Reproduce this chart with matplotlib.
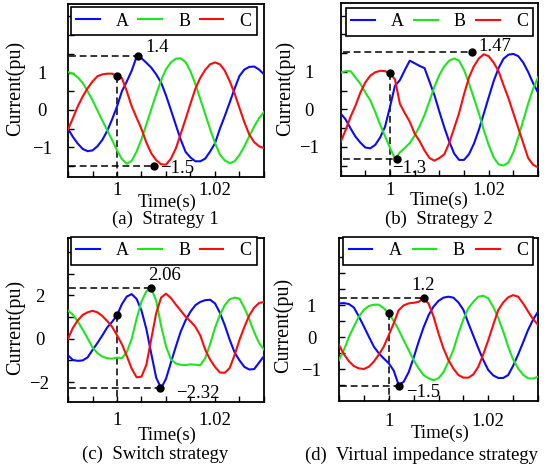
import matplotlib
matplotlib.use('Agg')
import matplotlib.pyplot as plt

plt.rcParams['font.family'] = ['Liberation Serif', 'DejaVu Serif']
plt.rcParams['axes.unicode_minus'] = True

W, H = 550, 473

# time axis (s), same for every panel
time_s = [0.990, 0.991, 0.992, 0.993, 0.994, 0.995, 0.996, 0.997, 0.998, 0.999,
          1.000, 1.001, 1.002, 1.003, 1.004, 1.005, 1.006, 1.007, 1.008, 1.009,
          1.010, 1.011, 1.012, 1.013, 1.014, 1.015, 1.016, 1.017, 1.018, 1.019,
          1.020, 1.021, 1.022, 1.023, 1.024, 1.025, 1.026, 1.027, 1.028, 1.029,
          1.030]

phase_names = ['A', 'B', 'C']
phase_colors = ['#0a0aff', '#1ee61e', '#ff0a0a']

# (a) Strategy 1, phase currents in pu
a_ia = [-0.50, -0.72, -0.90, -1.04, -1.10, -1.08, -0.97, -0.80, -0.56, -0.25,
        0.09, 0.50, 0.76, 1.05, 1.42, 1.38, 1.26, 1.13, 0.95, 0.73,
        0.39, 0.00, -0.40, -0.79, -1.12, -1.27, -1.37, -1.37, -1.30, -1.11,
        -0.89, -0.50, -0.16, 0.20, 0.57, 0.91, 1.08, 1.15, 1.16, 1.08,
        0.95]
a_ib = [1.01, 0.97, 0.87, 0.72, 0.50, 0.26, -0.01, -0.28, -0.54, -0.80,
        -1.08, -1.31, -1.44, -1.36, -1.11, -0.78, -0.38, 0.02, 0.42, 0.79,
        1.09, 1.27, 1.37, 1.38, 1.28, 1.03, 0.69, 0.29, -0.11, -0.51,
        -0.88, -1.19, -1.35, -1.42, -1.37, -1.20, -0.97, -0.70, -0.44, -0.22,
        -0.05]
a_ic = [-0.52, -0.22, 0.10, 0.36, 0.58, 0.76, 0.90, 0.95, 0.97, 0.97,
        0.91, 0.85, 0.50, 0.10, -0.21, -0.51, -0.87, -1.16, -1.34, -1.45,
        -1.46, -1.30, -1.03, -0.64, -0.24, 0.17, 0.57, 0.86, 1.07, 1.22,
        1.27, 1.22, 1.05, 0.77, 0.44, 0.05, -0.33, -0.66, -0.86, -0.97,
        -1.02]
a_dots = [(1.0, 0.90), (1.0043, 1.44), (1.0075, -1.50)]
a_texts = ['1.4', '\u22121.5']
a_text_pos = [(1.0057, 1.67), (1.0088, -1.56)]

# (b) Strategy 2
b_ia = [-0.11, -0.27, -0.51, -0.73, -0.89, -1.02, -1.04, -0.95, -0.75, -0.46,
        0.07, 0.63, 0.78, 1.05, 1.30, 1.23, 1.16, 1.10, 0.74, 0.38,
        -0.06, -0.48, -0.86, -1.18, -1.35, -1.35, -1.20, -0.92, -0.55, -0.12,
        0.32, 0.75, 1.10, 1.35, 1.46, 1.48, 1.42, 1.25, 1.00, 0.70,
        0.45]
b_ib = [0.98, 1.02, 1.02, 0.85, 0.68, 0.45, 0.24, -0.07, -0.41, -0.72,
        -1.03, -1.32, -1.15, -1.03, -0.90, -0.70, -0.45, -0.15, 0.22, 0.60,
        0.92, 1.15, 1.30, 1.36, 1.30, 1.05, 0.70, 0.30, -0.10, -0.55,
        -0.95, -1.28, -1.47, -1.50, -1.42, -1.15, -0.75, -0.30, 0.15, 0.55,
        0.85]
b_ic = [-0.87, -0.55, -0.20, 0.10, 0.45, 0.72, 0.90, 0.99, 1.03, 1.02,
        0.96, 0.80, 0.15, -0.10, -0.33, -0.65, -0.85, -1.10, -1.30, -1.37,
        -1.30, -1.20, -0.90, -0.50, -0.10, 0.40, 0.85, 1.15, 1.36, 1.47,
        1.42, 1.25, 1.02, 0.65, 0.30, -0.10, -0.50, -0.90, -1.30, -1.48,
        -1.55]
b_dots = [(1.0, 0.96), (1.0166, 1.52), (1.0015, -1.33)]
b_texts = ['1.47', '\u22121.3']
b_text_pos = [(1.018, 1.67), (1.0005, -1.57)]

# (c) Switch strategy
c_ia = [-0.77, -0.98, -1.02, -1.00, -0.86, -0.52, -0.20, 0.15, 0.52, 0.78,
        1.08, 1.60, 1.95, 2.06, 1.84, 1.30, 0.44, -0.70, -1.80, -2.28,
        -1.85, -1.10, -0.37, 0.33, 0.85, 1.25, 1.55, 1.70, 1.78, 1.80,
        1.63, 1.20, 0.62, -0.05, -0.63, -1.00, -1.30, -1.42, -1.40, -1.10,
        -0.80]
c_ib = [1.30, 1.11, 0.80, 0.42, 0.02, -0.40, -0.66, -0.82, -0.90, -0.92,
        -0.87, -0.90, -0.62, 0.00, 0.92, 1.72, 2.20, 2.32, 1.75, 0.60,
        -0.35, -0.95, -1.14, -1.20, -1.22, -1.18, -1.20, -1.22, -0.90, -0.25,
        0.50, 1.10, 1.55, 1.82, 1.90, 1.85, 1.42, 0.90, 0.30, -0.20,
        -0.50]
c_ic = [0.00, 0.50, 0.85, 1.10, 1.22, 1.29, 1.22, 1.05, 0.82, 0.55,
        0.16, -0.25, -0.80, -1.38, -1.78, -1.75, -1.20, 0.00, 1.18, 1.90,
        2.08, 1.88, 1.58, 1.30, 1.02, 0.80, 0.55, 0.15, -0.50, -0.96,
        -1.30, -1.56, -1.57, -1.35, -0.75, -0.05, 0.55, 1.08, 1.44, 1.65,
        1.70]
c_dots = [(1.0, 1.09), (1.0069, 2.32), (1.0088, -2.29)]
c_texts = ['2.06', '\u22122.32']
c_text_pos = [(1.0063, 2.94), (1.012, -2.55)]

# (d) Virtual impedance strategy
d_ia = [1.05, 1.06, 1.03, 0.92, 0.64, 0.33, 0.01, -0.30, -0.51, -0.67,
        -0.82, -1.05, -1.50, -1.40, -1.10, -0.65, -0.15, 0.30, 0.68, 0.95,
        1.13, 1.23, 1.26, 1.23, 1.08, 0.85, 0.43, 0.04, -0.35, -0.72,
        -1.03, -1.20, -1.28, -1.28, -1.19, -0.90, -0.55, -0.17, 0.22, 0.54,
        0.79]
d_ib = [-0.72, -0.40, 0.00, 0.33, 0.64, 0.85, 0.97, 1.01, 1.01, 0.90,
        0.74, 0.50, 0.22, -0.10, -0.41, -0.72, -0.98, -1.19, -1.29, -1.35,
        -1.29, -1.10, -0.77, -0.40, 0.11, 0.55, 0.90, 1.10, 1.26, 1.29,
        1.21, 0.94, 0.60, 0.18, -0.30, -0.70, -0.98, -1.18, -1.29, -1.30,
        -1.24]
d_ic = [-0.25, -0.54, -0.76, -0.91, -0.98, -1.00, -0.93, -0.77, -0.55, -0.30,
        0.06, 0.43, 0.84, 0.99, 1.05, 1.07, 1.10, 1.21, 1.05, 0.64,
        0.11, -0.36, -0.72, -0.99, -1.19, -1.27, -1.27, -1.17, -0.93, -0.54,
        -0.10, 0.38, 0.84, 1.08, 1.24, 1.31, 1.26, 1.05, 0.80, 0.56,
        0.38]
d_dots = [(1.0, 0.74), (1.007, 1.21), (1.0021, -1.52)]
d_texts = ['1.2', '\u22121.5']
d_text_pos = [(1.0046, 1.62), (1.0034, -1.72)]

captions = ['(a)  Strategy 1', '(b)  Strategy 2',
            '(c)  Switch strategy', '(d)  Virtual impedance strategy']

DASH = (0, (4.5, 2.5))
FS = 13.5


def px_box(l, t, r, b):
    return [l / W, 1 - b / H, (r - l) / W, (b - t) / H]


def fig_text(fig, x, y, s, size=FS, **kw):
    fig.text(x / W, 1 - y / H, s, fontsize=size, ha='center', va='center', **kw)


def draw_panel(ax, curves, dots, texts, text_pos, xlim, ylim, yticks, ylab,
               ypad, xpad, leg_box):
    lines = []
    for vals, color, name in zip(curves, phase_colors, phase_names):
        ln, = ax.plot(time_s, vals, color=color, lw=1.5, label=name, zorder=3)
        lines.append(ln)
    ax.set_xlim(xlim)
    ax.set_ylim(ylim)

    # guide lines: dot at the fault instant drops to the time axis,
    # the two extreme dots run back to the current axis
    t0, v0 = dots[0]
    ax.plot([t0, t0], [v0, ylim[0]], color='k', ls=DASH, lw=1.1, zorder=2)
    for tx, vy in dots[1:]:
        ax.plot([xlim[0], tx], [vy, vy], color='k', ls=DASH, lw=1.1, zorder=2)
    ax.plot([d[0] for d in dots], [d[1] for d in dots], 'o', color='k',
            ms=5, ls='none', zorder=5)
    for s, (tx, vy) in zip(texts, text_pos):
        ax.text(tx, vy, s, fontsize=FS, ha='left', va='center', zorder=6)

    xt = [0.990 + 0.005 * i for i in range(9)]
    ax.set_xticks(xt)
    ax.set_xticklabels(['1' if abs(x - 1.0) < 1e-9 else
                        ('1.02' if abs(x - 1.02) < 1e-9 else '') for x in xt])
    ax.set_yticks(yticks)
    ax.set_yticklabels([ylab.get(round(y, 2), '') for y in yticks])
    ax.tick_params(direction='in', length=4, width=1, labelsize=FS)
    ax.tick_params(axis='y', pad=ypad)
    ax.tick_params(axis='x', pad=xpad)
    for lab in ax.get_yticklabels():
        lab.set_horizontalalignment('center')
    for sp in ax.spines.values():
        sp.set_linewidth(1.3)

    leg = ax.legend(handles=lines, ncol=3, loc='center', mode='expand',
                    bbox_to_anchor=leg_box, fontsize=13, frameon=True,
                    fancybox=False, framealpha=1, edgecolor='k',
                    borderpad=0.3, handlelength=1.3, handletextpad=0.9,
                    columnspacing=1.0, borderaxespad=0)
    leg.get_frame().set_linewidth(1.2)
    leg.set_zorder(10)


fig = plt.figure(figsize=(W / 100, H / 100), dpi=100)

yt_half = [-1.5, -1.0, -0.5, 0.0, 0.5, 1.0, 1.5, 2.0, 2.5]
yl_half = {-1.0: '\u22121', 0.0: '0', 1.0: '1'}
yt_one = [-2.0, -1.0, 0.0, 1.0, 2.0, 3.0, 4.0]
yl_one = {-2.0: '\u22122', 0.0: '0', 2.0: '2'}

ax_a = fig.add_axes(px_box(68, 4, 264, 177))
draw_panel(ax_a, [a_ia, a_ib, a_ic], a_dots, a_texts, a_text_pos,
           (0.99016, 1.02976), (-1.79, 2.83), yt_half, yl_half,
           18.7, 3.5, (0.014, 0.831, 0.949, 0.138))

ax_b = fig.add_axes(px_box(340.7, 3, 538, 176))
draw_panel(ax_b, [b_ia, b_ib, b_ic], b_dots, b_texts, b_text_pos,
           (0.99038, 1.02945), (-1.78, 2.84), yt_half, yl_half,
           22.8, 4.0, (0.025, 0.825, 0.951, 0.135))

ax_c = fig.add_axes(px_box(68, 238, 264, 402))
draw_panel(ax_c, [c_ia, c_ib, c_ic], c_dots, c_texts, c_text_pos,
           (0.99016, 1.02976), (-2.92, 4.65), yt_one, yl_one,
           20.5, 7.0, (0.014, 0.849, 0.949, 0.147))

ax_d = fig.add_axes(px_box(339, 237.5, 538.3, 401))
draw_panel(ax_d, [d_ia, d_ib, d_ic], d_dots, d_texts, d_text_pos,
           (0.9902, 1.03006), (-2.0, 3.11), yt_half, yl_half,
           19.8, 8.5, (0.022, 0.846, 0.953, 0.147))

# axis titles and captions
for x, y in [(167, 202), (439, 200), (167, 435), (440, 433)]:
    fig_text(fig, x, y, 'Time(s)')
for x, y in [(15.5, 88), (285, 88), (15, 327), (283.5, 325)]:
    fig_text(fig, x, y, 'Current(pu)', size=14.5, rotation=90)
for (x, y), cap in zip([(165.5, 219), (439, 219), (155, 454), (422, 455)],
                       captions):
    fig_text(fig, x, y, cap)

fig.savefig('out.png', dpi=100)
